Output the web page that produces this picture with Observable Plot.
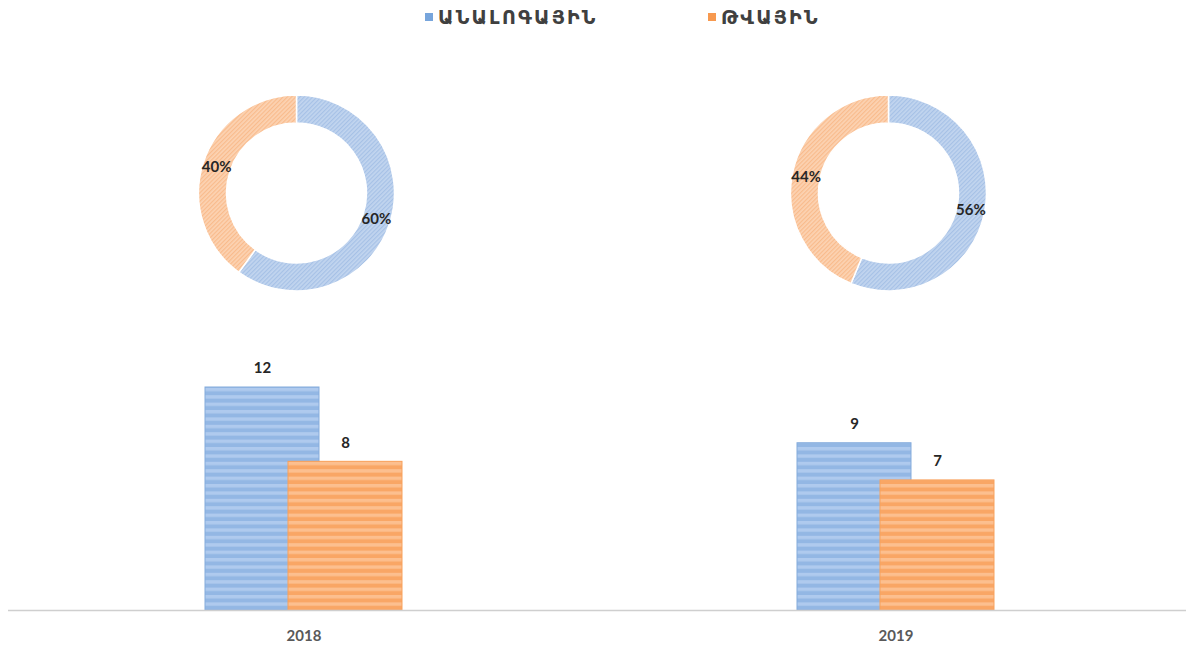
<!DOCTYPE html>
<html><head><meta charset="utf-8">
<script src="https://cdn.jsdelivr.net/npm/d3@7"></script>
<script src="https://cdn.jsdelivr.net/npm/@observablehq/plot@0.6"></script>
<style>
body{margin:0;background:#fff;}
#legend{height:40px;position:relative;font-family:"DejaVu Sans",sans-serif;}
.item{position:absolute;top:6px;display:flex;align-items:center;font-size:19px;font-weight:bold;letter-spacing:2.2px;color:#404040;white-space:nowrap;}
.sw{width:8px;height:8px;margin-right:5px;}
</style></head><body>
<div id="legend"></div><div id="chart"></div>
<script>
const years = ["2018", "2019"];
const seriesNames = ["ԱՆԱԼՈԳԱՅԻՆ", "ԹՎԱՅԻՆ"];
const analog = [12, 9];
const digital = [8, 7];
const swatch = ["#77a5dc", "#f7994f"];

// legend
const legend = document.getElementById("legend");
const legendLeft = [425, 708];
seriesNames.forEach((n, k) => {
  const it = document.createElement("div");
  it.className = "item";
  it.style.left = legendLeft[k] + "px";
  it.innerHTML = `<span class="sw" style="background:${swatch[k]}"></span><span>${n}</span>`;
  legend.appendChild(it);
});

const rows = years.flatMap((y, i) => [
  {i, year: y, series: seriesNames[0], value: analog[i], k: 0},
  {i, year: y, series: seriesNames[1], value: digital[i], k: 1}
]);

const bw = 114 / 592;   // bar width in band units
const ov = 31 / 592;    // overlap
const x1 = d => d.k === 0 ? d.i - bw + ov / 2 : d.i - ov / 2;
const x2 = d => d.k === 0 ? d.i + ov / 2 : d.i + bw - ov / 2;

const donutMark = (index, scales, values, dimensions) => {
  const g = d3.create("svg:g");
  const pie = d3.pie().sort(null).value(d => d);
  const arc = d3.arc().innerRadius(70).outerRadius(98);
  const mid = d3.arc().innerRadius(84).outerRadius(84);
  const fills = ["url(#donutBlue)", "url(#donutOrange)"];
  years.forEach((yr, i) => {
    const vals = [analog[i], digital[i]];
    const tot = d3.sum(vals);
    const cx = scales.x(i) - 7, cy = dimensions.marginTop - 194;
    const gg = g.append("g").attr("transform", `translate(${cx},${cy})`);
    const arcs = pie(vals);
    gg.selectAll("path").data(arcs).join("path")
      .attr("d", arc).attr("fill", (d, j) => fills[j])
      .attr("stroke", "#fff").attr("stroke-width", 1.5);
    gg.selectAll("text").data(arcs).join("text")
      .attr("transform", d => `translate(${mid.centroid(d)})`)
      .attr("text-anchor", "middle").attr("dy", "0.35em")
      .attr("font-family", "Lato, 'Open Sans', sans-serif")
      .attr("font-weight", "bold").attr("font-size", 15).attr("fill", "#262626")
      .text(d => Math.round(d.value / tot * 100) + "%");
  });
  return g.node();
};

const chart = Plot.plot({
  width: 1186,
  height: 606,
  marginTop: 347,
  marginBottom: 36,
  marginLeft: 8,
  marginRight: 0,
  x: {domain: [0, 1], range: [303.5, 895.5], axis: null},
  y: {domain: [0, 12], axis: null},
  style: {fontFamily: "Lato, 'Open Sans', sans-serif", background: "#fff"},
  marks: [
    Plot.rectY(rows.filter(d => d.k === 0), {x1, x2, y1: 0, y2: "value", fill: "url(#barBlue)", stroke: "#84abdc", strokeWidth: 1}),
    Plot.rectY(rows.filter(d => d.k === 1), {x1, x2, y1: 0, y2: "value", fill: "url(#barOrange)", stroke: "#f8a15c", strokeWidth: 1}),
    Plot.ruleY([0], {stroke: "#cfcfcf", strokeWidth: 1.5}),
    Plot.text(rows, {x: d => (x1(d) + x2(d)) / 2, y: "value", text: d => String(d.value), dy: -19, fontSize: 15, fontWeight: "bold", fill: "#262626"}),
    Plot.axisX({ticks: [0, 1], tickFormat: i => years[i], tickSize: 0, tickPadding: 20, fontSize: 15, fontWeight: "bold", fill: "#595959"}),
    donutMark
  ]
});

d3.select(chart).insert("defs", ":first-child").html(`
  <pattern id="barBlue" patternUnits="userSpaceOnUse" width="10" height="7.4">
    <rect width="10" height="7.4" fill="#93b7e4"/>
    <rect y="0" width="10" height="3.4" fill="#afcaee"/>
  </pattern>
  <pattern id="barOrange" patternUnits="userSpaceOnUse" width="10" height="7.4">
    <rect width="10" height="7.4" fill="#f9a665"/>
    <rect y="0" width="10" height="3.4" fill="#fcbf8f"/>
  </pattern>
  <pattern id="donutBlue" patternUnits="userSpaceOnUse" width="3" height="3" patternTransform="rotate(45)">
    <rect width="3" height="3" fill="#c2d5ef"/>
    <rect width="1.2" height="3" fill="#a6c1e6"/>
  </pattern>
  <pattern id="donutOrange" patternUnits="userSpaceOnUse" width="3" height="3" patternTransform="rotate(45)">
    <rect width="3" height="3" fill="#fcd3b3"/>
    <rect width="1.2" height="3" fill="#f9bb8c"/>
  </pattern>
`);

document.getElementById("chart").appendChild(chart);
</script>
</body></html>
